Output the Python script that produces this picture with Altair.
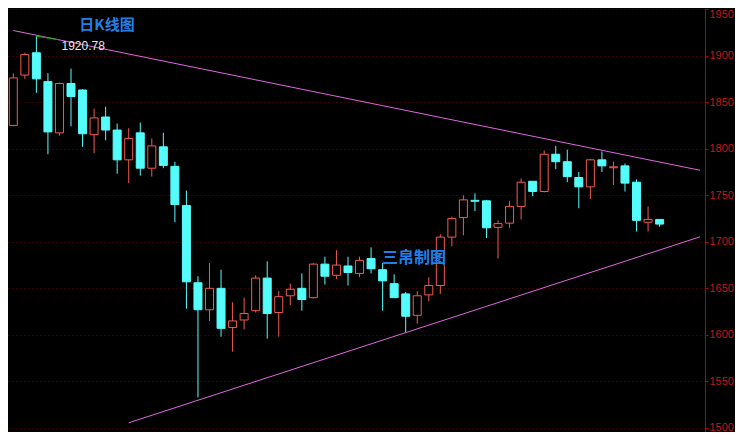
import altair as alt
import numpy as np
import pandas as pd

# Daily candles (open, high, low, close)
opens = [1825, 1879, 1903, 1872, 1817, 1870, 1863, 1815, 1834, 1820,
         1788, 1817, 1779, 1802, 1781, 1739, 1656, 1627, 1650, 1608,
         1616, 1626, 1661, 1624, 1642, 1650, 1640, 1676, 1664, 1674,
         1666, 1682, 1670, 1655, 1644, 1621, 1643, 1653, 1705, 1726,
         1744.5, 1744, 1715.5, 1720, 1738, 1765, 1754, 1794, 1786, 1769,
         1759, 1788, 1779.5, 1781.5, 1764, 1721, 1724]
highs = [1881, 1903, 1920.78, 1881, 1871, 1886, 1864, 1843, 1845, 1827,
         1822, 1828, 1811, 1817, 1786, 1755, 1663, 1677, 1670, 1635,
         1640, 1664, 1679, 1647, 1655, 1666, 1677, 1684, 1691, 1684,
         1684, 1694, 1677, 1665, 1646, 1647, 1662, 1708, 1727, 1750,
         1752, 1745, 1723, 1744, 1768, 1765, 1798, 1803, 1799, 1775,
         1789, 1797, 1786, 1784, 1767, 1738, 1724]
lows = [1824, 1875, 1860, 1794, 1814, 1824, 1802, 1795, 1809, 1773,
        1763, 1771, 1770, 1779, 1721, 1628, 1533, 1615, 1598, 1582,
        1606, 1624, 1596, 1598, 1632, 1626, 1639, 1654, 1660, 1653,
        1662, 1666, 1626, 1640, 1603, 1612, 1636, 1644, 1695, 1707,
        1733, 1704, 1682, 1715, 1724, 1749, 1753, 1778, 1764, 1736,
        1746, 1775, 1761, 1754, 1711, 1711, 1716]
closes = [1876, 1901, 1875, 1818, 1870, 1856, 1816, 1833, 1820, 1788,
          1811, 1779, 1803, 1782, 1740, 1657, 1627, 1650, 1607, 1615,
          1623, 1661, 1623, 1641, 1649, 1638, 1676, 1663, 1675, 1667,
          1680, 1671, 1658, 1640, 1620, 1642, 1653, 1705, 1725, 1745,
          1743.5, 1715, 1719.5, 1738, 1764, 1754, 1794, 1786, 1770, 1759,
          1788, 1781.5, 1780.5, 1763, 1723, 1724, 1719]

# Trend lines (candle index, price)
upper_x = [0, 59.5]
upper_y = [1926.9, 1776.8]
lower_x = [10, 59.5]
lower_y = [1505.6, 1705.3]

# Leader from the high to its label
high_label = "1920.78"
leader_x = [2, 4]
leader_y = [1920.78, 1916.8]

y_ticks = [1500, 1550, 1600, 1650, 1700, 1750, 1800, 1850, 1900, 1950]

df = pd.DataFrame({"i": list(range(len(opens))), "open": opens, "high": highs,
                   "low": lows, "close": closes})
df["dir"] = np.where(df["close"] >= df["open"], "up", "down")

tl = pd.DataFrame({
    "line": ["upper"] * len(upper_x) + ["lower"] * len(lower_x),
    "i": upper_x + lower_x,
    "v": upper_y + lower_y,
})
ld = pd.DataFrame({"i": leader_x, "v": leader_y})
lab = pd.DataFrame({"i": [leader_x[-1]], "v": [leader_y[-1]], "t": [high_label]})

xs = alt.Scale(domain=[-0.026, 59.5], nice=False, zero=False)
ys = alt.Scale(domain=[1495.70, 1951.07], nice=False, zero=False)

stroke_enc = alt.Stroke("dir:N", scale=alt.Scale(domain=["up", "down"],
                        range=["#f05a50", "#55fcfc"]), legend=None)
fill_enc = alt.Fill("dir:N", scale=alt.Scale(domain=["up", "down"],
                    range=["#000000", "#55fcfc"]), legend=None)

yaxis = alt.Axis(orient="right", values=y_ticks, title=None, format="d",
                 grid=True, gridColor="#7a0000", gridDash=[1, 3], gridWidth=1,
                 domainColor="#b00000", tickColor="#b00000", tickSize=3,
                 labelColor="#c01818", labelFont="Liberation Sans",
                 labelFontSize=11, labelPadding=1,
                 labelBaseline=alt.condition("datum.value >= 1950",
                                             alt.value("top"), alt.value("middle")))

X = alt.X("i:Q", scale=xs, axis=None)

wicks = alt.Chart(df).mark_rule(strokeWidth=1).encode(
    x=X,
    y=alt.Y("low:Q", scale=ys, axis=yaxis),
    y2="high:Q",
    stroke=stroke_enc,
)

bodies = alt.Chart(df).mark_bar(size=8, strokeWidth=1).encode(
    x=X,
    y=alt.Y("open:Q", scale=ys, axis=yaxis),
    y2="close:Q",
    fill=fill_enc,
    stroke=stroke_enc,
)

trend = alt.Chart(tl).mark_line(color="#e066e0", strokeWidth=1).encode(
    x=X,
    y=alt.Y("v:Q", scale=ys, axis=yaxis),
    detail="line:N",
)

leader = alt.Chart(ld).mark_line(color="#00b000", strokeWidth=1).encode(
    x=X,
    y=alt.Y("v:Q", scale=ys, axis=yaxis),
)

label = alt.Chart(lab).mark_text(align="left", baseline="middle", dx=2, dy=6,
                                 color="#e8e8e8", font="Liberation Sans",
                                 fontSize=12).encode(
    x=X,
    y=alt.Y("v:Q", scale=ys, axis=yaxis),
    text="t:N",
)

title1 = alt.Chart(pd.DataFrame({"t": ["日K线图"]})).mark_text(
    font="Noto Sans CJK SC", fontSize=15, fontWeight="bold", color="#2080e8",
    align="center", baseline="middle").encode(
    x=alt.value(99), y=alt.value(17), text="t:N")

title2 = alt.Chart(pd.DataFrame({"t": ["三帛制图"]})).mark_text(
    font="Noto Sans CJK SC", fontSize=16, fontWeight="bold", color="#2080e8",
    align="center", baseline="middle").encode(
    x=alt.value(406), y=alt.value(250), text="t:N")

chart = alt.layer(wicks, bodies, trend, leader, label, title1, title2).properties(
    width=697, height=424,
    padding={"left": 0, "top": 0, "right": 30, "bottom": 0},
    autosize=alt.AutoSizeParams(type="none"),
    background="#000000",
).configure_view(strokeWidth=0)

chart.save("out.html", embed_options={"renderer": "svg", "actions": False})
